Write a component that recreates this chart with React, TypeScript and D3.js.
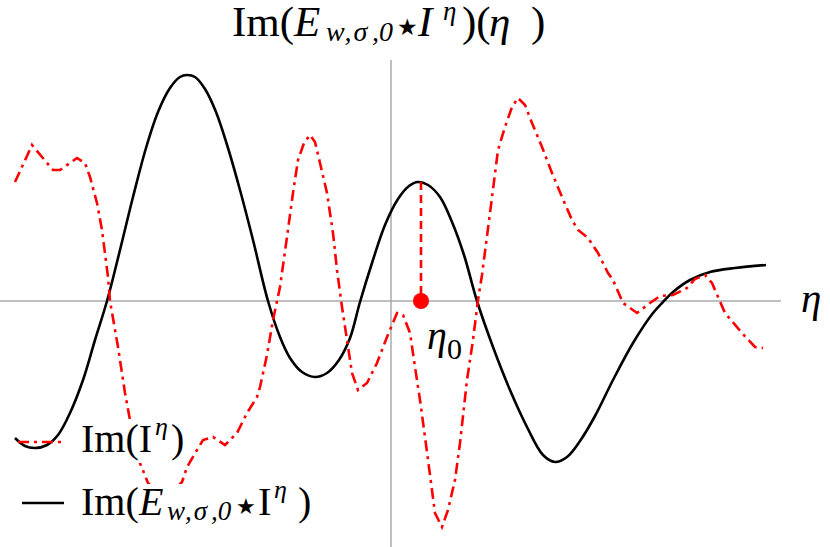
import React from "react";
import * as d3 from "d3";

const blackEta = [-7.52,-7.32,-7.12,-6.88,-6.66,-6.42,-6.16,-5.92,-5.68,-5.42,-5.16,-4.9,-4.66,-4.42,-4.22,-4.08,-3.92,-3.72,-3.5,-3.26,-3.02,-2.76,-2.46,-2.22,-2.02,-1.78,-1.52,-1.28,-1.04,-0.82,-0.62,-0.38,-0.12,0.14,0.36,0.54,0.74,0.98,1.22,1.46,1.72,2.04,2.38,2.72,3.04,3.28,3.52,3.78,4.08,4.44,4.84,5.24,5.44,5.64,5.98,6.38,6.88,7.5];
const blackVal = [-2.74,-2.9,-2.94,-2.88,-2.68,-2.24,-1.58,-0.78,0,1.02,2.08,3.06,3.78,4.26,4.48,4.52,4.48,4.24,3.78,3.06,2.22,1.22,0,-0.72,-1.14,-1.42,-1.52,-1.44,-1.18,-0.74,-0.02,0.76,1.52,2.04,2.3,2.38,2.32,2.08,1.58,0.92,0,-0.92,-1.78,-2.52,-3.08,-3.22,-3.12,-2.8,-2.3,-1.58,-0.84,-0.24,-0.02,0.18,0.42,0.58,0.66,0.72];

const redEta = [-7.52,-7.18,-6.98,-6.76,-6.62,-6.28,-6.12,-6.02,-5.88,-5.78,-5.66,-5.62,-5.46,-5.32,-5.22,-5.02,-4.86,-4.52,-4.18,-4.08,-3.88,-3.76,-3.56,-3.32,-3.08,-2.88,-2.68,-2.62,-2.48,-2.36,-2.22,-2.08,-1.96,-1.86,-1.74,-1.62,-1.52,-1.42,-1.28,-1.16,-1.08,-0.98,-0.88,-0.78,-0.66,-0.48,-0.28,-0.08,0.12,0.24,0.38,0.48,0.58,0.68,0.88,1.02,1.14,1.28,1.38,1.52,1.64,1.74,1.82,1.98,2.14,2.28,2.42,2.54,2.68,2.82,3.02,3.22,3.42,3.62,3.74,3.94,4.14,4.34,4.44,4.64,4.92,5.18,5.38,5.64,5.92,6.08,6.28,6.42,6.68,7.02,7.28,7.44];
const redVal = [2.38,3.12,2.88,2.62,2.62,2.86,2.76,2.48,1.96,1.42,0.48,0,-0.92,-1.84,-2.38,-3.24,-3.64,-3.98,-3.62,-3.32,-2.98,-2.78,-2.72,-2.88,-2.64,-2.24,-1.92,-1.72,-1.08,-0.38,0.28,1.28,2.16,2.82,3.16,3.32,3.18,2.76,2.16,1.36,0.62,-0.12,-0.78,-1.44,-1.78,-1.64,-1.24,-0.72,-0.24,-0.28,-0.64,-1.32,-1.98,-2.72,-4.24,-4.52,-4.18,-3.58,-2.84,-1.58,-0.78,0.02,0.52,1.76,3.02,3.48,3.88,4.06,3.92,3.56,3.08,2.56,2.08,1.62,1.42,1.26,0.96,0.56,0.42,-0.04,-0.24,-0.04,0.1,0.12,0.26,0.44,0.52,0.36,-0.24,-0.64,-0.92,-0.94];

const eta0 = 0.6;
const eta0Val = 2.38;

const W = 830, H = 547;
const serif = "'Liberation Serif', 'Times New Roman', serif";

export default function App() {
  const x = d3.scaleLinear().domain([-7.82, 8.78]).range([0, W]);
  const y = d3.scaleLinear().domain([-4.92, 6.02]).range([H, 0]);
  const black = blackEta.map((e, i) => [e, blackVal[i]] as [number, number]);
  const red = redEta.map((e, i) => [e, redVal[i]] as [number, number]);
  const lineB = d3.line<[number, number]>().x(d => x(d[0])).y(d => y(d[1])).curve(d3.curveCatmullRom.alpha(0.5));
  const lineR = d3.line<[number, number]>().x(d => x(d[0])).y(d => y(d[1])).curve(d3.curveLinear);
  const x0 = x(0), y0 = y(0);
  const it = { fontStyle: "italic" as const };
  return (
    <svg width={W} height={H} style={{ position: "absolute", left: 0, top: 0, background: "#fff" }} fontFamily={serif}>
      <line x1={0} x2={781} y1={y0} y2={y0} stroke="#aaa" strokeWidth={1.5} />
      <line x1={x0} x2={x0} y1={60} y2={H} stroke="#aaa" strokeWidth={1.5} />
      <path d={lineB(black) || ""} fill="none" stroke="#000" strokeWidth={2.6} />
      <path d={lineR(red) || ""} fill="none" stroke="#ff0000" strokeWidth={2.6} strokeDasharray="11,5,3,5" />
      <line x1={x(eta0)} x2={x(eta0)} y1={y(eta0Val)} y2={y0} stroke="#ff0000" strokeWidth={2.6} strokeDasharray="8,5" />
      <circle cx={x(eta0)} cy={y0} r={8} fill="#ff0000" />

      <g fontSize={43} fill="#000">
        <text x={232} y={36}>Im(</text>
        <text x={294} y={36} {...it}>E</text>
        <text x={326} y={41} fontSize={28} letterSpacing={2} {...it}>w,σ</text>
        <text x={372} y={41} fontSize={28} {...it}>,0</text>
        <text x={397} y={35} fontSize={23} fontFamily="DejaVu Sans">★</text>
        <text x={418} y={36} {...it}>I</text>
        <text x={443} y={20} fontSize={27} {...it}>η</text>
        <text x={462} y={36}>)(</text>
        <text x={489} y={36} {...it}>η</text>
        <text x={531} y={36}>)</text>
      </g>

      <text x={801} y={312} fontSize={41} {...it}>η</text>
      <text x={427} y={349} fontSize={40} {...it}>η</text>
      <text x={447} y={359} fontSize={30}>0</text>

      <rect x={76} y={419} width={112} height={44} fill="#fff" />
      <rect x={76} y={484} width={264} height={42} fill="#fff" />
      <line x1={18} x2={66} y1={442} y2={442} stroke="#ff0000" strokeWidth={2.6} strokeDasharray="11,5,3,5" />
      <line x1={22} x2={64} y1={503} y2={503} stroke="#000" strokeWidth={2.6} />

      <g fontSize={40} fill="#000">
        <text x={81} y={452}>Im(I</text>
        <text x={155} y={435} fontSize={26} {...it}>η</text>
        <text x={171} y={452}>)</text>

        <text x={81} y={515}>Im(</text>
        <text x={139} y={515} {...it}>E</text>
        <text x={167} y={520} fontSize={27} letterSpacing={2} {...it}>w,σ</text>
        <text x={211} y={520} fontSize={27} {...it}>,0</text>
        <text x={236} y={514} fontSize={22} fontFamily="DejaVu Sans">★</text>
        <text x={258} y={515}>I</text>
        <text x={274} y={498} fontSize={26} {...it}>η</text>
        <text x={298} y={515}>)</text>
      </g>
    </svg>
  );
}
